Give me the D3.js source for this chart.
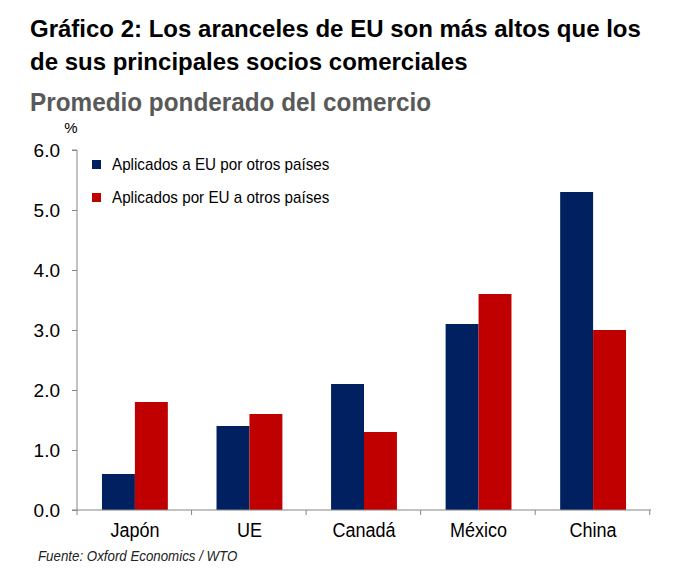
<!DOCTYPE html>
<html>
<head>
<meta charset="utf-8">
<script src="https://cdn.jsdelivr.net/npm/d3@7"></script>
<style>
  html, body { margin: 0; padding: 0; background: #ffffff; }
  svg { display: block; }
  text { font-family: "Liberation Sans Narrow", "Arial Narrow", "Liberation Sans", Arial, sans-serif; }
</style>
</head>
<body>
<div id="chart"></div>
<script>
const titleLines = ["Gráfico 2: Los aranceles de EU son más altos que los", "de sus principales socios comerciales"];
const subtitle = "Promedio ponderado del comercio";
const unitLabel = "%";
const categories = ["Japón", "UE", "Canadá", "México", "China"];
const seriesNames = ["Aplicados a EU por otros países", "Aplicados por EU a otros países"];
const appliedToUS = [0.6, 1.4, 2.1, 3.1, 5.3];
const appliedByUS = [1.8, 1.6, 1.3, 3.6, 3.0];
const yTicks = [0, 1, 2, 3, 4, 5, 6];
const source = "Fuente: Oxford Economics / WTO";
const colors = ["#002060", "#C00000"];

const W = 683, H = 579;
const svg = d3.select("#chart").append("svg").attr("width", W).attr("height", H);

// condense text horizontally (narrow-font look)
function condense(sel, factor) {
  sel.each(function () {
    const w = this.getComputedTextLength();
    d3.select(this).attr("textLength", w * factor).attr("lengthAdjust", "spacingAndGlyphs");
  });
}

const plot = { left: 77, right: 651, top: 150, bottom: 510 };

// Titles
svg.append("g").selectAll("text").data(titleLines).join("text")
  .attr("x", 30).attr("y", (d, i) => 37 + i * 33)
  .attr("font-size", 24).attr("font-weight", "bold").attr("fill", "#000")
  .text(d => d);
svg.append("text").attr("x", 30).attr("y", 111)
  .attr("font-size", 26).attr("font-weight", "bold").attr("fill", "#595959")
  .text(subtitle).call(condense, 0.935);
svg.append("text").attr("x", 71).attr("y", 133).attr("text-anchor", "middle")
  .attr("font-size", 15).attr("fill", "#000").text(unitLabel);

const y = d3.scaleLinear().domain([0, 6]).range([plot.bottom, plot.top]);
const x0 = d3.scaleBand().domain(categories).range([plot.left, plot.right])
  .paddingInner(0.425).paddingOuter(0.218);
const x1 = d3.scaleBand().domain([0, 1]).range([0, x0.bandwidth()]);

const data = categories.map((c, i) => ({ cat: c, vals: [appliedToUS[i], appliedByUS[i]] }));

// Bars
const groups = svg.append("g").selectAll("g").data(data).join("g")
  .attr("transform", d => `translate(${x0(d.cat)},0)`);
groups.selectAll("rect").data(d => d.vals.map((v, k) => ({ v, k }))).join("rect")
  .attr("x", d => x1(d.k)).attr("width", x1.bandwidth())
  .attr("y", d => y(d.v)).attr("height", d => y(0) - y(d.v))
  .attr("fill", d => colors[d.k]);

// Y axis
const yAxis = svg.append("g").attr("transform", `translate(${plot.left},0)`)
  .call(d3.axisLeft(y).tickValues(yTicks).tickFormat(d3.format(".1f")).tickSize(5).tickPadding(12));
yAxis.select(".domain").attr("stroke", "#868686").attr("d", `M-5,${plot.top}H0V${plot.bottom}H-5`);
yAxis.selectAll(".tick line").attr("stroke", "#868686");
yAxis.selectAll(".tick text").attr("font-family", "'Liberation Sans', Arial, sans-serif")
  .attr("font-size", 19).attr("fill", "#000");

// X axis
const step = x0.step();
const boundaries = d3.range(categories.length + 1).map(i => plot.left + i * step);
const xAxisG = svg.append("g");
xAxisG.append("line").attr("x1", plot.left).attr("x2", plot.right)
  .attr("y1", plot.bottom).attr("y2", plot.bottom).attr("stroke", "#868686");
xAxisG.selectAll("line.tk").data(boundaries).join("line").attr("class", "tk")
  .attr("x1", d => d).attr("x2", d => d).attr("y1", plot.bottom).attr("y2", plot.bottom + 5)
  .attr("stroke", "#868686");
xAxisG.selectAll("text").data(categories).join("text")
  .attr("x", d => x0(d) + x0.bandwidth() / 2).attr("y", 537)
  .attr("text-anchor", "middle").attr("font-size", 20).attr("fill", "#000")
  .text(d => d).call(condense, 0.9);

// Legend
const legend = svg.append("g").selectAll("g").data(seriesNames).join("g")
  .attr("transform", (d, i) => `translate(92,${160 + i * 33})`);
legend.append("rect").attr("width", 9).attr("height", 9).attr("fill", (d, i) => colors[i]);
legend.append("text").attr("x", 20).attr("y", 10).attr("font-size", 17).attr("fill", "#000")
  .text(d => d).call(condense, 0.895);

// Source
svg.append("text").attr("x", 38).attr("y", 561).attr("font-size", 14)
  .attr("font-style", "italic").attr("fill", "#222").text(source).call(condense, 0.95);
</script>
</body>
</html>
